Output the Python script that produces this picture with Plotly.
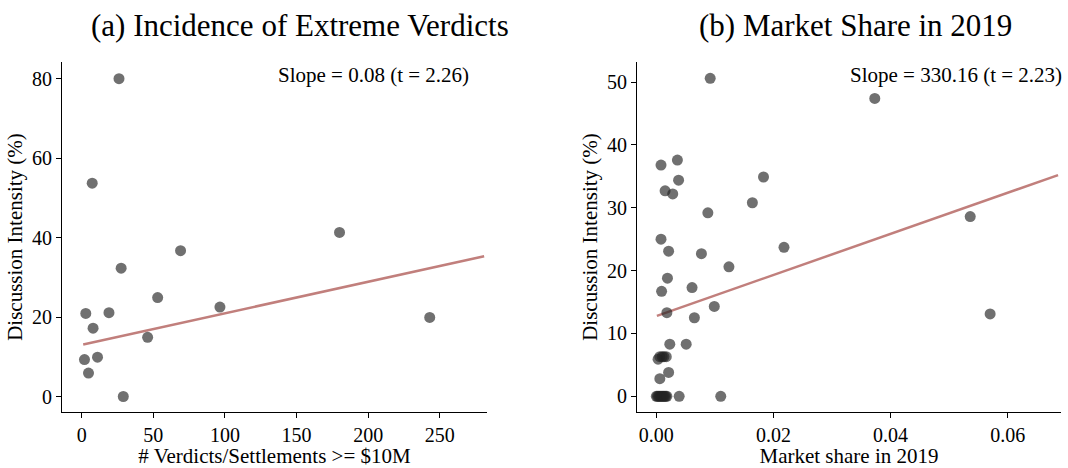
import plotly.graph_objects as go

# ---- data ----
left_x = [26, 7.3, 69, 27.5, 53, 2.8, 19, 7.9, 46, 1.9, 11, 4.7, 29, 96.5, 180, 243]
left_y = [80.0, 53.7, 36.7, 32.3, 24.9, 20.9, 21.1, 17.2, 14.9, 9.3, 9.9, 5.9, 0.0, 22.5, 41.3, 19.9]
left_fit_x = [1, 281]
left_fit_y = [13.1, 35.3]

right_x = [0.0092, 0.0008, 0.0036, 0.0038, 0.0015, 0.0028, 0.0183, 0.0164, 0.0088,
           0.0008, 0.0021, 0.0077, 0.0124, 0.0019, 0.0061, 0.0009, 0.0018, 0.0099,
           0.0065, 0.0023, 0.0051, 0.0003, 0.0006, 0.0010, 0.0013, 0.0017, 0.0021,
           0.0006, 0.0000, 0.0002, 0.0004, 0.0006, 0.0008, 0.0010, 0.0012, 0.0014,
           0.0016, 0.0018, 0.0039, 0.0110, 0.0373, 0.0536, 0.0218, 0.0570]
right_y = [50.6, 36.8, 37.6, 34.4, 32.7, 32.2, 34.9, 30.8, 29.2,
           25.0, 23.1, 22.7, 20.6, 18.8, 17.3, 16.7, 13.3, 14.3,
           12.5, 8.3, 8.3, 5.9, 6.3, 6.3, 6.3, 6.3, 3.8,
           2.8, 0.0, 0.0, 0.0, 0.0, 0.0, 0.0, 0.0, 0.0,
           0.0, 0.0, 0.0, 0.0, 47.4, 28.6, 23.7, 13.1]
right_fit_x = [0.0001, 0.0686]
right_fit_y = [12.8, 35.2]

left_xticks = [0, 50, 100, 150, 200, 250]
left_yticks = [0, 20, 40, 60, 80]
right_xticks = [0.00, 0.02, 0.04, 0.06]
right_xticklabels = ["0.00", "0.02", "0.04", "0.06"]
right_yticks = [0, 10, 20, 30, 40, 50]

titles = ["(a) Incidence of Extreme Verdicts", "(b) Market Share in 2019"]
slope_texts = ["Slope = 0.08 (t = 2.26)", "Slope = 330.16 (t = 2.23)"]
x_titles = ["# Verdicts/Settlements >= $10M", "Market share in 2019"]
y_title = "Discussion Intensity (%)"

FONT = "Liberation Serif"
DOT = "rgba(35,35,35,0.65)"
LINE = "#c17f7c"
W, H = 1068, 468

fig = go.Figure()

fig.add_trace(go.Scatter(x=left_fit_x, y=left_fit_y, mode="lines",
                         line=dict(color=LINE, width=2.5), xaxis="x", yaxis="y",
                         showlegend=False, hoverinfo="skip"))
fig.add_trace(go.Scatter(x=left_x, y=left_y, mode="markers",
                         marker=dict(color=DOT, size=11, line=dict(width=0)),
                         xaxis="x", yaxis="y", showlegend=False))
fig.add_trace(go.Scatter(x=right_fit_x, y=right_fit_y, mode="lines",
                         line=dict(color=LINE, width=2.5), xaxis="x2", yaxis="y2",
                         showlegend=False, hoverinfo="skip"))
fig.add_trace(go.Scatter(x=right_x, y=right_y, mode="markers",
                         marker=dict(color=DOT, size=11, line=dict(width=0)),
                         xaxis="x2", yaxis="y2", showlegend=False))

axis_common = dict(showline=True, linecolor="black", linewidth=1.2, showgrid=False,
                   zeroline=False, ticks="outside", ticklen=5, tickwidth=1.2,
                   tickcolor="black", tickfont=dict(family=FONT, size=20, color="black"))

fig.update_layout(
    width=W, height=H,
    margin=dict(l=0, r=0, t=0, b=0),
    paper_bgcolor="white", plot_bgcolor="white",
    font=dict(family=FONT, color="black"),
    xaxis=dict(domain=[62/W, 487/W], range=[-13.8, 283], tickvals=left_xticks,
               anchor="y",
               title=dict(text=x_titles[0], font=dict(family=FONT, size=21), standoff=2),
               **axis_common),
    yaxis=dict(domain=[1-412/H, 1-62/H], range=[-3.9, 84.2], tickvals=left_yticks,
               anchor="x",
               title=dict(text=y_title, font=dict(family=FONT, size=21), standoff=3),
               **axis_common),
    xaxis2=dict(domain=[637/W, 1061/W], range=[-0.0033, 0.0691],
                tickvals=right_xticks, ticktext=right_xticklabels, anchor="y2",
                title=dict(text=x_titles[1], font=dict(family=FONT, size=21), standoff=2),
                **axis_common),
    yaxis2=dict(domain=[1-412/H, 1-62/H], range=[-2.5, 53.2], tickvals=right_yticks,
                anchor="x2",
                title=dict(text=y_title, font=dict(family=FONT, size=21), standoff=3),
                **axis_common),
    annotations=[
        dict(text=titles[0], x=300/W, y=1-25/H, xref="paper", yref="paper",
             showarrow=False, xanchor="center", yanchor="middle",
             font=dict(family=FONT, size=31, color="black")),
        dict(text=titles[1], x=855/W, y=1-25/H, xref="paper", yref="paper",
             showarrow=False, xanchor="center", yanchor="middle",
             font=dict(family=FONT, size=31, color="black")),
        dict(text=slope_texts[0], x=471/W, y=1-75/H, xref="paper", yref="paper",
             showarrow=False, xanchor="right", yanchor="middle",
             font=dict(family=FONT, size=21, color="black")),
        dict(text=slope_texts[1], x=1064/W, y=1-75/H, xref="paper", yref="paper",
             showarrow=False, xanchor="right", yanchor="middle",
             font=dict(family=FONT, size=21, color="black")),
    ],
)

fig.write_html("out.html", config={"displayModeBar": False},
               post_script="document.body.style.margin='0px';")
